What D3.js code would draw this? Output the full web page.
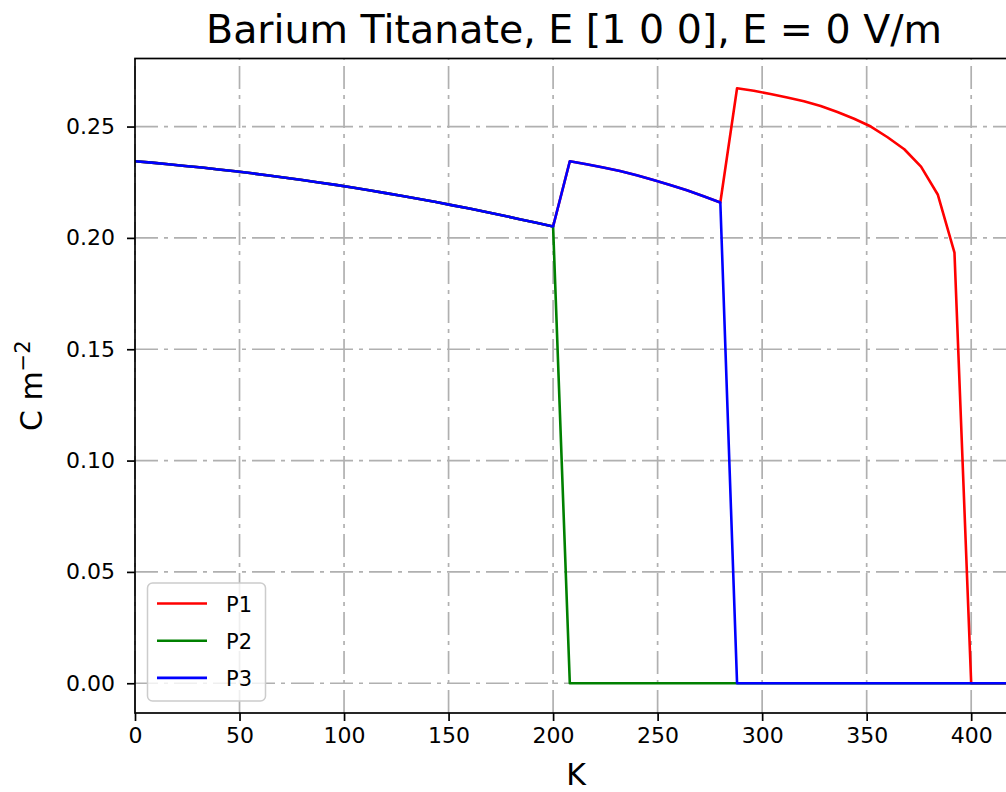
<!DOCTYPE html>
<html lang="en">
<head>
<meta charset="UTF-8">
<title>Barium Titanate polarisation</title>
<style>
  body { margin: 0; background: #fff; }
  svg { display: block; font-family: "DejaVu Sans", sans-serif; }
  .grid line { stroke: #b0b0b0; stroke-width: 1.7; stroke-dasharray: 23 6 4 6; }
  .tick text { font-size: 22px; fill: #000; }
</style>
</head>
<body>
<svg width="1006" height="792"></svg>
<script src="https://d3js.org/d3.v7.min.js"></script>
<script>
// temperature (K)
const temps = [0, 8, 16, 24, 32, 40, 48, 56, 64, 72, 80, 88, 96, 104, 112, 120, 128, 136,
  144, 152, 160, 168, 176, 184, 192, 200, 208, 216, 224, 232, 240, 248, 256, 264, 272, 280,
  288, 296, 304, 312, 320, 328, 336, 344, 352, 360, 368, 376, 384, 392, 400, 408, 416, 424];

// polarisation components (C m^-2)
const p1 = [0.2344, 0.2338, 0.2331, 0.2323, 0.2316, 0.2307, 0.2299, 0.2290, 0.2280, 0.2270,
  0.2260, 0.2249, 0.2238, 0.2226, 0.2214, 0.2201, 0.2188, 0.2175, 0.2161, 0.2146, 0.2132,
  0.2116, 0.2101, 0.2084, 0.2068, 0.2051,
  0.2344, 0.2331, 0.2316, 0.2300, 0.2281, 0.2260, 0.2238, 0.2214, 0.2187, 0.2159,
  0.2672, 0.2661, 0.2646, 0.2630, 0.2614, 0.2592, 0.2565, 0.2535, 0.2500, 0.2452,
  0.2398, 0.2320, 0.2195, 0.1934,
  0, 0, 0, 0];
const p2 = [0.2344, 0.2338, 0.2331, 0.2323, 0.2316, 0.2307, 0.2299, 0.2290, 0.2280, 0.2270,
  0.2260, 0.2249, 0.2238, 0.2226, 0.2214, 0.2201, 0.2188, 0.2175, 0.2161, 0.2146, 0.2132,
  0.2116, 0.2101, 0.2084, 0.2068, 0.2051,
  0, 0, 0, 0, 0, 0, 0, 0, 0, 0, 0, 0, 0, 0, 0, 0, 0, 0, 0, 0, 0, 0, 0, 0, 0, 0, 0, 0];
const p3 = [0.2344, 0.2338, 0.2331, 0.2323, 0.2316, 0.2307, 0.2299, 0.2290, 0.2280, 0.2270,
  0.2260, 0.2249, 0.2238, 0.2226, 0.2214, 0.2201, 0.2188, 0.2175, 0.2161, 0.2146, 0.2132,
  0.2116, 0.2101, 0.2084, 0.2068, 0.2051,
  0.2344, 0.2331, 0.2316, 0.2300, 0.2281, 0.2260, 0.2238, 0.2214, 0.2187, 0.2159,
  0, 0, 0, 0, 0, 0, 0, 0, 0, 0, 0, 0, 0, 0, 0, 0, 0, 0];

const seriesNames = ["P1", "P2", "P3"];
const seriesColors = ["#ff0000", "#008000", "#0000ff"];
const xTicks = [0, 50, 100, 150, 200, 250, 300, 350, 400];
const yTicks = [0, 0.05, 0.10, 0.15, 0.20, 0.25];

const pl = 135, pr = 1013, pt = 58.5, pb = 713;
const svg = d3.select("svg");

const x = d3.scaleLinear().domain([0, 420]).range([pl, pr]);
const y = d3.scaleLinear().domain([-0.01336, 0.28056]).range([pb, pt]);

svg.append("defs").append("clipPath").attr("id", "plotclip")
  .append("rect").attr("x", pl).attr("y", pt)
  .attr("width", pr - pl).attr("height", pb - pt);

// grid
const grid = svg.append("g").attr("class", "grid");
grid.selectAll(".vg").data(xTicks).enter().append("line")
  .attr("x1", d => x(d)).attr("x2", d => x(d))
  .attr("y1", pb).attr("y2", pt);
grid.selectAll(".hg").data(yTicks).enter().append("line")
  .attr("x1", pl).attr("x2", pr)
  .attr("y1", d => y(d)).attr("y2", d => y(d));

// lines
const series = [p1, p2, p3];
const line = d3.line().x(d => x(d[0])).y(d => y(d[1]));
svg.append("g").attr("clip-path", "url(#plotclip)")
  .selectAll("path").data(series).enter().append("path")
  .attr("d", s => line(temps.map((t, i) => [t, s[i]])))
  .attr("fill", "none")
  .attr("stroke", (s, i) => seriesColors[i])
  .attr("stroke-width", 2.6)
  .attr("stroke-linejoin", "round");

// axes
const xAxis = svg.append("g").attr("transform", `translate(0,${pb})`)
  .call(d3.axisBottom(x).tickValues(xTicks).tickFormat(d3.format("d"))
    .tickSize(8).tickPadding(6));
const yAxis = svg.append("g").attr("transform", `translate(${pl},0)`)
  .call(d3.axisLeft(y).tickValues(yTicks).tickFormat(d3.format(".2f"))
    .tickSize(8).tickPadding(12));
[xAxis, yAxis].forEach(a => {
  a.select(".domain").remove();
  a.selectAll(".tick line").attr("stroke", "#000").attr("stroke-width", 1.7);
  a.attr("font-family", null).attr("font-size", null);
});

// frame
svg.append("rect").attr("x", pl).attr("y", pt)
  .attr("width", pr - pl).attr("height", pb - pt)
  .attr("fill", "none").attr("stroke", "#000").attr("stroke-width", 1.7);

// title and labels
svg.append("text").attr("x", (pl + pr) / 2).attr("y", 43)
  .attr("text-anchor", "middle").attr("font-size", 39.5)
  .text("Barium Titanate, E [1 0 0], E = 0 V/m");
svg.append("text").attr("x", (pl + pr) / 2 + 2).attr("y", 785)
  .attr("text-anchor", "middle").attr("font-size", 30).text("K");
const yl = svg.append("text")
  .attr("transform", `translate(42,${(pt + pb) / 2}) rotate(-90)`)
  .attr("text-anchor", "middle").attr("font-size", 30);
yl.append("tspan").text("C m");
yl.append("tspan").attr("font-size", 21).attr("dy", -12).text("\u22122");

// legend
const lg = svg.append("g");
lg.append("rect").attr("x", 147.5).attr("y", 583).attr("width", 118).attr("height", 118)
  .attr("rx", 5).attr("fill", "#fff").attr("fill-opacity", 0.8)
  .attr("stroke", "#cccccc").attr("stroke-width", 1.5);
seriesNames.forEach((n, i) => {
  const yy = 603.5 + i * 37.2;
  lg.append("line").attr("x1", 157).attr("x2", 207).attr("y1", yy).attr("y2", yy)
    .attr("stroke", seriesColors[i]).attr("stroke-width", 2.6);
  lg.append("text").attr("x", 226).attr("y", yy + 8).attr("font-size", 21).text(n);
});
</script>
</body>
</html>
